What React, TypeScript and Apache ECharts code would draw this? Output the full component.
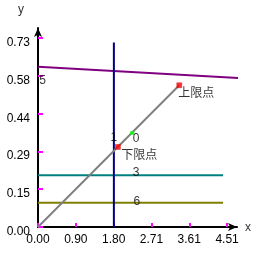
import React, { useEffect, useRef } from "react";
import * as echarts from "echarts";

const xTicks = [0, 0.902, 1.804, 2.706, 3.608, 4.51];
const yTicks = [0, 0.146, 0.292, 0.438, 0.584, 0.73];

const purpleLine = [[0, 0.618], [4.95, 0.573]];
const tealLine = [[0, 0.2], [4.415, 0.2]];
const oliveLine = [[0, 0.094], [4.415, 0.094]];
const blueLine = [[1.81, 0], [1.81, 0.712]];
const grayLine = [[0, 0], [3.37, 0.547]];

const redPoints = [[1.906, 0.309], [3.37, 0.547]];
const greenPoints = [[2.248, 0.363]];

const textLabels = [
  { name: "5", value: [0.03, 0.5685] },
  { name: "1", value: [1.73, 0.3465] },
  { name: "0", value: [2.26, 0.3445] },
  { name: "3", value: [2.26, 0.2113] },
  { name: "6", value: [2.28, 0.0993] },
  { name: "上限点", value: [3.347, 0.5183] },
  { name: "下限点", value: [1.987, 0.2789] },
];

export default function App() {
  const ref = useRef<HTMLDivElement>(null);
  useEffect(() => {
    const chart = echarts.init(ref.current!, null, { renderer: "svg" });
    const lineSeries = (data: number[][], color: string) => ({
      type: "line",
      data,
      clip: false,
      symbol: "none",
      lineStyle: { color, width: 2 },
      z: 2,
    });
    chart.setOption({
      animation: false,
      grid: { left: 38, right: 28, top: 28, bottom: 38, containLabel: false },
      xAxis: {
        type: "value",
        min: 0,
        max: 4.747,
        name: "x",
        nameLocation: "end",
        nameGap: 8,
        nameTextStyle: { color: "#333", fontSize: 12, fontFamily: "Liberation Sans", padding: [0, 0, 6, 0] },
        axisLine: { show: true, lineStyle: { color: "#000", width: 2 }, symbol: ["none", "arrow"], symbolSize: [6, 9] },
        axisTick: { show: true, inside: true, length: 4, lineStyle: { color: "#ff00ff", width: 2 }, customValues: xTicks },
        axisLabel: {
          show: true,
          customValues: xTicks,
          formatter: (v: number) => v.toFixed(2),
          color: "#000",
          fontSize: 12,
          fontFamily: "Liberation Sans",
          margin: 6,
        },
        splitLine: { show: false },
      },
      yAxis: {
        type: "value",
        min: 0,
        max: 0.768,
        name: "y",
        nameLocation: "end",
        nameGap: 13,
        nameTextStyle: { color: "#333", fontSize: 12, fontFamily: "Liberation Sans", align: "right", padding: [0, 14, 0, 0] },
        axisLine: { show: true, lineStyle: { color: "#000", width: 2 }, symbol: ["none", "arrow"], symbolSize: [6, 9] },
        axisTick: { show: true, inside: true, length: 5, lineStyle: { color: "#ff00ff", width: 2 }, customValues: yTicks },
        axisLabel: {
          show: true,
          customValues: yTicks,
          formatter: (v: number) => v.toFixed(2),
          color: "#000",
          fontSize: 12,
          fontFamily: "Liberation Sans",
          margin: 8,
          verticalAlign: "top",
          lineHeight: 8,
        },
        splitLine: { show: false },
      },
      series: [
        lineSeries(purpleLine, "#800080"),
        lineSeries(tealLine, "#008080"),
        lineSeries(oliveLine, "#808000"),
        lineSeries(blueLine, "#000080"),
        lineSeries(grayLine, "#808080"),
        {
          type: "scatter",
          data: redPoints,
          symbol: "rect",
          symbolSize: 5,
          itemStyle: { color: "#ff0000", borderColor: "#cc0000", borderWidth: 0.5 },
          z: 5,
        },
        {
          type: "scatter",
          data: greenPoints,
          symbol: "rect",
          symbolSize: 4,
          itemStyle: { color: "#00ff00" },
          z: 5,
        },
        {
          type: "scatter",
          data: textLabels,
          symbolSize: 1,
          itemStyle: { color: "transparent" },
          z: 6,
          label: {
            show: true,
            position: "inside",
            formatter: (p: any) => p.name,
            align: "left",
            verticalAlign: "middle",
            color: "#000",
            fontSize: 12,
            fontFamily: "Liberation Sans, Noto Sans CJK SC",
          },
        },
      ],
    });
    return () => chart.dispose();
  }, []);
  return <div ref={ref} style={{ position: "fixed", left: 0, top: 0, width: 265, height: 265 }} />;
}
